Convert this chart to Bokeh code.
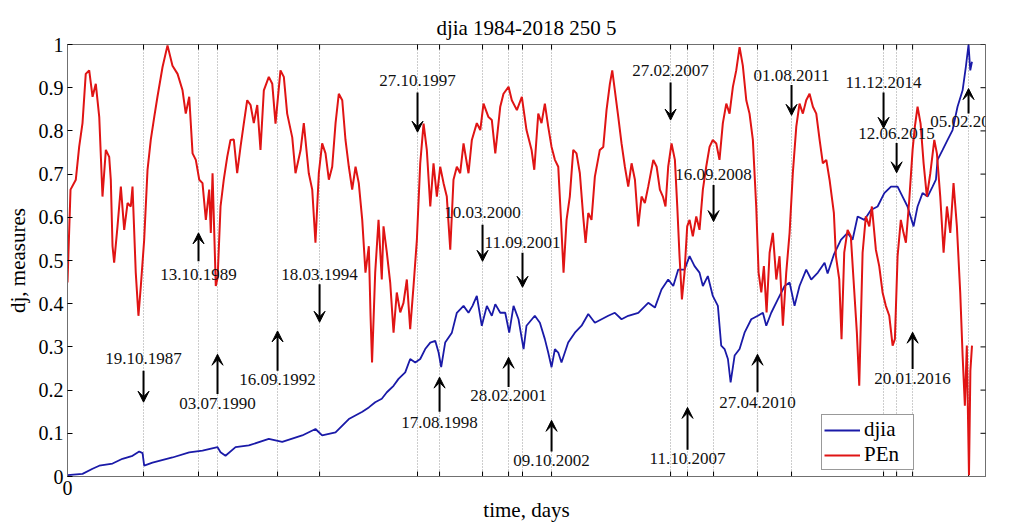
from bokeh.plotting import figure
from bokeh.models import (Range1d, FixedTicker, ColumnDataSource,
                          LabelSet, Arrow, VeeHead, Legend, LegendItem)
from bokeh.embed import file_html
from bokeh.resources import INLINE
import math

# ---------------- data ----------------
pen_day = [
    0, 28, 77, 108, 139, 169, 201, 232, 262, 294,
    324, 355, 386, 401, 417, 432, 463, 494, 525, 556,
    586, 602, 632, 657, 679, 710, 741, 771, 803, 833,
    880, 926, 972, 1019, 1065, 1095, 1127, 1158, 1188, 1220,
    1250, 1281, 1312, 1327, 1343, 1373, 1390, 1417, 1447, 1479,
    1509, 1540, 1571, 1602, 1633, 1664, 1695, 1725, 1757, 1787,
    1818, 1864, 1896, 1926, 1972, 2003, 2034, 2081, 2111, 2158,
    2188, 2234, 2266, 2296, 2327, 2358, 2389, 2420, 2451, 2482,
    2512, 2544, 2574, 2605, 2636, 2667, 2697, 2729, 2759, 2790,
    2806, 2820, 2849, 2880, 2910, 2926, 2957, 2988, 3019, 3049,
    3081, 3111, 3142, 3173, 3204, 3235, 3266, 3297, 3327, 3359,
    3389, 3420, 3451, 3482, 3512, 3544, 3574, 3605, 3636, 3667,
    3713, 3744, 3790, 3822, 3852, 3898, 3929, 3961, 4007, 4037,
    4084, 4114, 4161, 4207, 4250, 4297, 4322, 4359, 4389, 4420,
    4451, 4482, 4513, 4544, 4568, 4593, 4621, 4651, 4683, 4713,
    4744, 4775, 4797, 4822, 4852, 4883, 4929, 4961, 4991, 5022,
    5044, 5068, 5100, 5130, 5161, 5192, 5223, 5254, 5285, 5315,
    5346, 5377, 5424, 5455, 5485, 5513, 5537, 5562, 5593, 5624,
    5646, 5667, 5689, 5713, 5738, 5760, 5790, 5822, 5852, 5883,
    5914, 5945, 5975, 6007, 6037, 6068, 6100, 6130, 6161, 6192,
    6223, 6253, 6285, 6315, 6346, 6377, 6399, 6424, 6448, 6473,
    6501, 6531, 6563, 6593, 6624, 6655, 6686, 6716, 6748, 6778,
    6809, 6840, 6871, 6902, 6933, 6964, 6994, 7026, 7056, 7096,
    7115, 7146, 7167, 7192, 7223, 7253, 7278, 7309, 7331, 7362,
    7392, 7424, 7448, 7485, 7516, 7547, 7577, 7609, 7640, 7661,
    7686, 7716, 7741, 7763, 7794, 7825, 7846, 7871, 7899, 7927,
    7957, 7989, 8026, 8050, 8081, 8112, 8143, 8174, 8204, 8235,
    8266, 8288, 8309, 8327, 8347, 8360, 8375,
]
pen_val = [
    0.449, 0.664, 0.687, 0.763, 0.818, 0.932, 0.940, 0.879, 0.909, 0.832,
    0.648, 0.756, 0.740, 0.687, 0.533, 0.495, 0.579, 0.671, 0.571, 0.633,
    0.625, 0.671, 0.472, 0.372, 0.441, 0.548, 0.710, 0.779, 0.832, 0.879,
    0.948, 0.998, 0.951, 0.932, 0.894, 0.840, 0.879, 0.748, 0.733, 0.687,
    0.679, 0.594, 0.664, 0.564, 0.702, 0.441, 0.460, 0.625, 0.687, 0.740,
    0.779, 0.780, 0.702, 0.763, 0.818, 0.871, 0.860, 0.818, 0.860, 0.756,
    0.894, 0.925, 0.909, 0.817, 0.940, 0.925, 0.840, 0.785, 0.702, 0.755,
    0.818, 0.702, 0.664, 0.541, 0.702, 0.771, 0.748, 0.687, 0.717, 0.818,
    0.886, 0.871, 0.779, 0.717, 0.664, 0.717, 0.679, 0.594, 0.472, 0.533,
    0.372, 0.264, 0.472, 0.594, 0.456, 0.579, 0.518, 0.449, 0.333, 0.426,
    0.380, 0.402, 0.456, 0.341, 0.441, 0.548, 0.725, 0.817, 0.756, 0.625,
    0.725, 0.648, 0.717, 0.679, 0.648, 0.525, 0.687, 0.717, 0.702, 0.771,
    0.702, 0.779, 0.818, 0.802, 0.863, 0.832, 0.825, 0.748, 0.856, 0.886,
    0.902, 0.871, 0.848, 0.879, 0.802, 0.756, 0.710, 0.840, 0.818, 0.863,
    0.810, 0.763, 0.733, 0.717, 0.602, 0.472, 0.594, 0.648, 0.756, 0.748,
    0.702, 0.602, 0.541, 0.610, 0.594, 0.694, 0.756, 0.763, 0.848, 0.909,
    0.940, 0.894, 0.832, 0.771, 0.717, 0.671, 0.725, 0.687, 0.579, 0.648,
    0.633, 0.671, 0.733, 0.717, 0.664, 0.648, 0.625, 0.717, 0.771, 0.733,
    0.625, 0.510, 0.410, 0.472, 0.579, 0.594, 0.556, 0.602, 0.571, 0.664,
    0.717, 0.763, 0.779, 0.771, 0.733, 0.818, 0.863, 0.840, 0.902, 0.940,
    0.994, 0.951, 0.871, 0.840, 0.779, 0.625, 0.472, 0.426, 0.487, 0.380,
    0.518, 0.564, 0.456, 0.510, 0.349, 0.472, 0.564, 0.702, 0.810, 0.863,
    0.840, 0.871, 0.886, 0.856, 0.840, 0.779, 0.725, 0.733, 0.687, 0.610,
    0.510, 0.456, 0.318, 0.518, 0.571, 0.556, 0.456, 0.333, 0.210, 0.518,
    0.602, 0.579, 0.625, 0.525, 0.487, 0.426, 0.395, 0.372, 0.303, 0.318,
    0.510, 0.594, 0.564, 0.541, 0.640, 0.756, 0.810, 0.856, 0.817, 0.725,
    0.648, 0.702, 0.779, 0.748, 0.648, 0.518, 0.625, 0.564, 0.679, 0.579,
    0.426, 0.280, 0.164, 0.303, 0.003, 0.245, 0.303,
]

djia_day = [
    0, 139, 232, 294, 417, 509, 602, 664, 695, 710,
    787, 972, 1127, 1250, 1389, 1417, 1463, 1556, 1679, 1864,
    1988, 2173, 2296, 2358, 2482, 2605, 2730, 2790, 2849, 2910,
    2957, 3019, 3065, 3127, 3173, 3220, 3266, 3312, 3359, 3405,
    3436, 3460, 3497, 3559, 3605, 3667, 3713, 3750, 3790, 3836,
    3883, 3929, 3961, 4007, 4053, 4090, 4130, 4176, 4223, 4250,
    4327, 4374, 4420, 4451, 4482, 4513, 4544, 4574, 4636, 4698,
    4760, 4822, 4883, 4945, 5007, 5068, 5130, 5192, 5285, 5377,
    5439, 5500, 5562, 5609, 5655, 5713, 5760, 5806, 5852, 5883,
    5929, 5975, 6022, 6053, 6084, 6115, 6140, 6177, 6223, 6269,
    6331, 6392, 6439, 6470, 6516, 6577, 6640, 6686, 6732, 6778,
    6840, 6886, 6948, 7010, 7038, 7098, 7161, 7223, 7269, 7316,
    7378, 7439, 7501, 7563, 7625, 7686, 7732, 7778, 7834, 7871,
    7917, 7964, 8010, 8041, 8056, 8103, 8149, 8195, 8241, 8288,
    8318, 8343, 8359, 8375,
]
djia_val = [
    0.003, 0.006, 0.018, 0.025, 0.030, 0.041, 0.048, 0.058, 0.054, 0.025,
    0.032, 0.044, 0.056, 0.060, 0.068, 0.056, 0.048, 0.068, 0.072, 0.087,
    0.080, 0.095, 0.110, 0.095, 0.102, 0.133, 0.150, 0.160, 0.172, 0.180,
    0.195, 0.210, 0.226, 0.241, 0.272, 0.264, 0.272, 0.295, 0.310, 0.314,
    0.287, 0.253, 0.310, 0.333, 0.379, 0.395, 0.379, 0.395, 0.418, 0.349,
    0.395, 0.372, 0.399, 0.379, 0.379, 0.333, 0.395, 0.364, 0.295, 0.349,
    0.372, 0.356, 0.318, 0.287, 0.253, 0.295, 0.287, 0.264, 0.310, 0.333,
    0.349, 0.376, 0.356, 0.364, 0.372, 0.379, 0.364, 0.372, 0.379, 0.402,
    0.391, 0.433, 0.456, 0.441, 0.479, 0.479, 0.510, 0.487, 0.472, 0.441,
    0.464, 0.418, 0.395, 0.303, 0.295, 0.272, 0.218, 0.280, 0.295, 0.333,
    0.364, 0.372, 0.379, 0.349, 0.379, 0.410, 0.441, 0.449, 0.395, 0.441,
    0.479, 0.456, 0.472, 0.495, 0.470, 0.515, 0.548, 0.564, 0.548, 0.602,
    0.594, 0.617, 0.625, 0.656, 0.671, 0.671, 0.648, 0.625, 0.579, 0.625,
    0.656, 0.648, 0.671, 0.687, 0.733, 0.756, 0.779, 0.802, 0.856, 0.894,
    0.948, 1.000, 0.940, 0.960,
]

event_day = [704, 1213, 1389, 1945, 2334, 3241, 3445, 3843, 4084, 4213,
             4482, 5584, 5741, 5982, 6389, 6704, 7556, 7677, 7825, 8343]
event_label = ["19.10.1987", "13.10.1989", "03.07.1990", "16.09.1992",
               "18.03.1994", "27.10.1997", "17.08.1998", "10.03.2000",
               "28.02.2001", "11.09.2001", "09.10.2002", "27.02.2007",
               "11.10.2007", "16.09.2008", "27.04.2010", "01.08.2011",
               "11.12.2014", "12.06.2015", "20.01.2016", "05.02.2018"]
# annotation placement (label centre, arrow tail, arrow tip) in y units
label_y = [0.272, 0.468, 0.168, 0.224, 0.468, 0.917, 0.126, 0.610, 0.187, 0.541,
           0.038, 0.940, 0.041, 0.698, 0.172, 0.929, 0.913, 0.794, 0.227, 0.821]
tail_y = [0.245, 0.498, 0.191, 0.245, 0.445, 0.889, 0.150, 0.583, 0.207, 0.518,
          0.058, 0.912, 0.062, 0.675, 0.195, 0.906, 0.889, 0.772, 0.249, 0.840]
tip_y = [0.172, 0.564, 0.283, 0.337, 0.357, 0.797, 0.230, 0.498, 0.276, 0.438,
         0.130, 0.825, 0.160, 0.590, 0.283, 0.836, 0.806, 0.703, 0.334, 0.898]

y_ticks = [0, 0.1, 0.2, 0.3, 0.4, 0.5, 0.6, 0.7, 0.8, 0.9, 1]
X_END = 8500

# ---------------- figure ----------------
FONT = "Liberation Serif"
FRAME = "#707070"

p = figure(width=1011, height=524, output_backend="svg", toolbar_location=None,
           x_range=Range1d(0, X_END), y_range=Range1d(0, 1),
           min_border_left=67, min_border_right=26, min_border_top=44,
           min_border_bottom=46)
p.outline_line_color = FRAME
p.background_fill_color = "white"

p.title.text = "djia 1984-2018 250 5"
p.title.align = "center"
p.title.vertical_align = "middle"
p.title.text_font = FONT
p.title.text_font_size = "21px"
p.title.text_font_style = "normal"
p.title.text_color = "black"
p.title.standoff = 8

def style_axis(ax):
    ax.major_tick_in = 5
    ax.major_tick_out = 0
    ax.minor_tick_line_color = None
    ax.axis_line_color = FRAME
    ax.major_tick_line_color = "black"
    ax.major_label_text_font = FONT
    ax.major_label_text_font_size = "20px"
    ax.major_label_text_color = "black"
    ax.axis_label_text_font = FONT
    ax.axis_label_text_font_style = "normal"
    ax.axis_label_text_font_size = "21px"
    ax.axis_label_text_color = "black"

xa = p.xaxis[0]
xa.ticker = FixedTicker(ticks=[0])
style_axis(xa)
xa.axis_label = "time, days"
xa.major_label_standoff = 4
xa.axis_label_standoff = 0

ya = p.yaxis[0]
ya.ticker = FixedTicker(ticks=y_ticks)
ya.major_label_overrides = {0: "0", 1: "1"}
style_axis(ya)
ya.axis_label = "dj, measures"
ya.major_label_standoff = 4
ya.axis_label_standoff = 6

p.xgrid.ticker = FixedTicker(ticks=event_day)
p.xgrid.grid_line_color = "#9a9a9a"
p.xgrid.grid_line_dash = "1 2"
p.xgrid.grid_line_width = 1
p.ygrid.visible = False

# inward tick marks on the frame at the event days (bottom/top) and y ticks (right)
p.scatter(event_day, [0] * len(event_day), marker="dash", size=10,
          angle=math.pi / 2, line_color="black", line_width=1)
p.scatter(event_day, [1] * len(event_day), marker="dash", size=10,
          angle=math.pi / 2, line_color="black", line_width=1)
p.scatter([X_END] * len(y_ticks), y_ticks, marker="dash", size=10,
          line_color="black", line_width=1)

r_dj = p.line(djia_day, djia_val, line_color="#1a1aa8", line_width=1.8)
r_pe = p.line(pen_day, pen_val, line_color="#e01414", line_width=2)

ann = ColumnDataSource(dict(x=event_day, ly=label_y, ty=tail_y, hy=tip_y,
                            text=event_label))
p.add_layout(Arrow(source=ann, x_start="x", y_start="ty", x_end="x", y_end="hy",
                   line_color="black", line_width=2,
                   end=VeeHead(size=11, fill_color="black", line_color="black")))
p.add_layout(LabelSet(source=ann, x="x", y="ly", text="text",
                      text_align="center", text_baseline="middle",
                      text_font=FONT, text_font_size="17px", text_color="#111111"))

legend = Legend(items=[LegendItem(label="djia", renderers=[r_dj]),
                       LegendItem(label="PEn", renderers=[r_pe])],
                location=(754, 6))
legend.label_text_font = FONT
legend.label_text_font_size = "21px"
legend.label_text_color = "black"
legend.border_line_color = "#333333"
legend.border_line_width = 1
legend.glyph_width = 36
legend.glyph_height = 20
legend.label_height = 20
legend.label_width = 47
legend.label_standoff = 4
legend.padding = 2
legend.spacing = 0
legend.margin = 0
legend.background_fill_alpha = 1
p.add_layout(legend)

open("out.html", "w").write(file_html(p, INLINE))
